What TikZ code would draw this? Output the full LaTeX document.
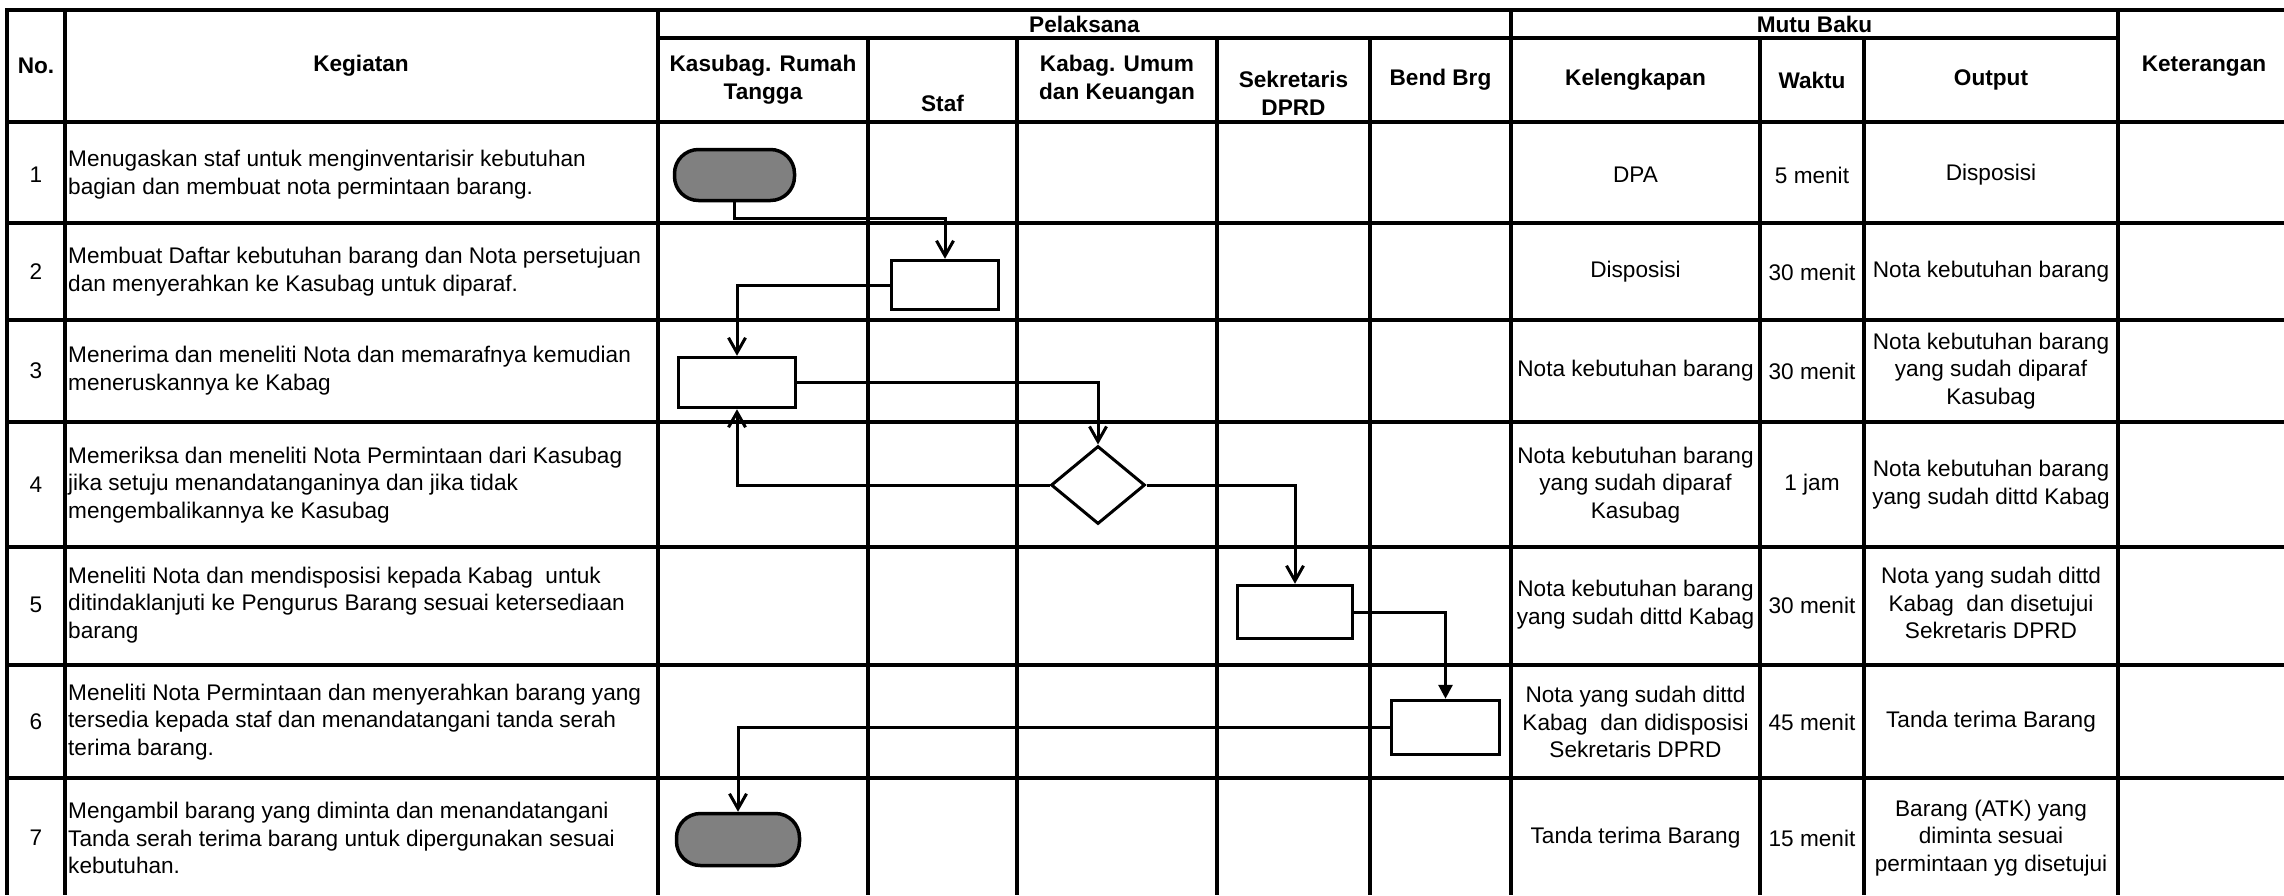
\documentclass[tikz,border=0pt]{standalone}
\usepackage{fontspec}
\setmainfont{Liberation Sans}
\usetikzlibrary{arrows.meta,shapes.geometric}
\definecolor{termgray}{RGB}{128,128,128}
\begin{document}
\begin{tikzpicture}[x=1pt,y=-1pt,
  grid/.style={line width=3.3pt},
  conn/.style={line width=3pt, -{Straight Barb[length=15pt,width=17pt]}},
  conntri/.style={line width=3pt, -{Triangle[length=14pt,width=14pt]}},
  procbox/.style={draw, line width=3.5pt, rectangle, inner sep=0pt, fill=white},
  term/.style={draw, line width=3.5pt, rectangle, rounded corners=24pt, fill=termgray, inner sep=0pt},
  decide/.style={draw, line width=3pt, diamond, minimum width=94pt, minimum height=78pt, inner sep=0pt, fill=white},
  hd/.style={font=\fontsize{22.6pt}{27.8pt}\selectfont\bfseries, align=center, inner sep=0pt},
  cell/.style={font=\fontsize{22.6pt}{27.8pt}\selectfont, align=center, inner sep=0pt},
  keg/.style={font=\fontsize{22.6pt}{27.8pt}\selectfont, align=left, anchor=west, inner sep=0pt},
]
\useasboundingbox (0,0) rectangle (2284,895);
\fill[white] (0,0) rectangle (2284,895);

% grid
\draw[grid] (7,10) -- (2284,10);
\draw[grid] (658,38) -- (2118,38);
\foreach \y in {122,223,320,422,547,665,778} \draw[grid] (7,\y) -- (2284,\y);
\foreach \x in {7,65,658,1511,2118} \draw[grid] (\x,8.35) -- (\x,895);
\foreach \x in {868,1017,1217,1370,1760,1864} \draw[grid] (\x,38) -- (\x,895);

% headers
\node[hd] (hno) at (36,66) {No.};
\node[hd] (hkeg) at (361,66) {Kegiatan};
\node[hd] (hpel) at (1084.5,24) {Pelaksana};
\node[hd] (hmutu) at (1814.5,24) {Mutu Baku};
\node[hd] (hkas) at (763,80) {Kasubag. Rumah\\Tangga};
\node[hd] (hstaf) at (942.5,103) {Staf};
\node[hd] (hkabag) at (1117,80) {Kabag. Umum\\dan Keuangan};
\node[hd] (hsek) at (1293.5,93) {Sekretaris\\DPRD};
\node[hd] (hbend) at (1440.5,80) {Bend Brg};
\node[hd] (hkel) at (1635.5,80) {Kelengkapan};
\node[hd] (hwak) at (1812,80) {Waktu};
\node[hd] (hout) at (1991,80) {Output};
\node[hd] (hket) at (2204,66) {Keterangan};

% numbers
\node[cell] (n1) at (36,175) {1};
\node[cell] (n2) at (36,272) {2};
\node[cell] (n3) at (36,371) {3};
\node[cell] (n4) at (36,485) {4};
\node[cell] (n5) at (36,605) {5};
\node[cell] (n6) at (36,722) {6};
\node[cell] (n7) at (36,838) {7};

% kegiatan
\node[keg] (k1) at (68,175) {Menugaskan staf untuk menginventarisir kebutuhan\\bagian dan membuat nota permintaan barang.};
\node[keg] (k2) at (68,272) {Membuat Daftar kebutuhan barang dan Nota persetujuan\\dan menyerahkan ke Kasubag untuk diparaf.};
\node[keg] (k3) at (68,371) {Menerima dan meneliti Nota dan memarafnya kemudian\\meneruskannya ke Kabag};
\node[keg] (k4) at (68,485) {Memeriksa dan meneliti Nota Permintaan dari Kasubag\\jika setuju menandatanganinya dan jika tidak\\mengembalikannya ke Kasubag};
\node[keg] (k5) at (68,605) {Meneliti Nota dan mendisposisi kepada Kabag\ \ untuk\\ditindaklanjuti ke Pengurus Barang sesuai ketersediaan\\barang};
\node[keg] (k6) at (68,722) {Meneliti Nota Permintaan dan menyerahkan barang yang\\tersedia kepada staf dan menandatangani tanda serah\\terima barang.};
\node[keg] (k7) at (68,838) {Mengambil barang yang diminta dan menandatangani\\Tanda serah terima barang untuk dipergunakan sesuai\\kebutuhan.};

% mutu baku
\node[cell] (l1) at (1635.5,175) {DPA};
\node[cell] (w1) at (1812,175) {5 menit};
\node[cell] (o1) at (1991,175) {Disposisi};
\node[cell] (l2) at (1635.5,272) {Disposisi};
\node[cell] (w2) at (1812,272) {30 menit};
\node[cell] (o2) at (1991,272) {Nota kebutuhan barang};
\node[cell] (l3) at (1635.5,371) {Nota kebutuhan barang};
\node[cell] (w3) at (1812,371) {30 menit};
\node[cell] (o3) at (1991,371) {Nota kebutuhan barang\\yang sudah diparaf\\Kasubag};
\node[cell] (l4) at (1635.5,485) {Nota kebutuhan barang\\yang sudah diparaf\\Kasubag};
\node[cell] (w4) at (1812,485) {1 jam};
\node[cell] (o4) at (1991,485) {Nota kebutuhan barang\\yang sudah dittd Kabag};
\node[cell] (l5) at (1635.5,605) {Nota kebutuhan barang\\yang sudah dittd Kabag};
\node[cell] (w5) at (1812,605) {30 menit};
\node[cell] (o5) at (1991,603) {Nota yang sudah dittd\\Kabag\ \ dan disetujui\\Sekretaris DPRD};
\node[cell] (l6) at (1635.5,722) {Nota yang sudah dittd\\Kabag\ \ dan didisposisi\\Sekretaris DPRD};
\node[cell] (w6) at (1812,722) {45 menit};
\node[cell] (o6) at (1991,722) {Tanda terima Barang};
\node[cell] (l7) at (1635.5,838) {Tanda terima Barang};
\node[cell] (w7) at (1812,838) {15 menit};
\node[cell] (o7) at (1991,838) {Barang (ATK) yang\\diminta sesuai\\permintaan yg disetujui};

% flow shapes
\node[term, minimum width=120pt, minimum height=51pt] (t1) at (734.5,175) {};
\node[procbox, minimum width=107pt, minimum height=49pt] (b2) at (945,285) {};
\node[procbox, minimum width=117pt, minimum height=50pt] (b3) at (737,382.5) {};
\node[decide] (d4) at (1098,485) {};
\node[procbox, minimum width=115pt, minimum height=53pt] (b5) at (1295,612) {};
\node[procbox, minimum width=108pt, minimum height=54pt] (b6) at (1445.5,727.5) {};
\node[term, minimum width=123pt, minimum height=52pt] (t7) at (738,839.5) {};

% connectors
\coordinate (j1) at (945,218);
\draw[conn] (t1.south) |- (j1) -- (b2.north);
\draw[conn] (b2.west) -| (b3.north);
\draw[conn] (b3.east) -| (d4.north);
\draw[conn] (d4.west) -| (b3.south);
\draw[conn] (d4.east) -| (b5.north);
\draw[conntri] (b5.east) -| (b6.north);
\draw[conn] (b6.west) -| (t7.north);
\end{tikzpicture}
\end{document}
